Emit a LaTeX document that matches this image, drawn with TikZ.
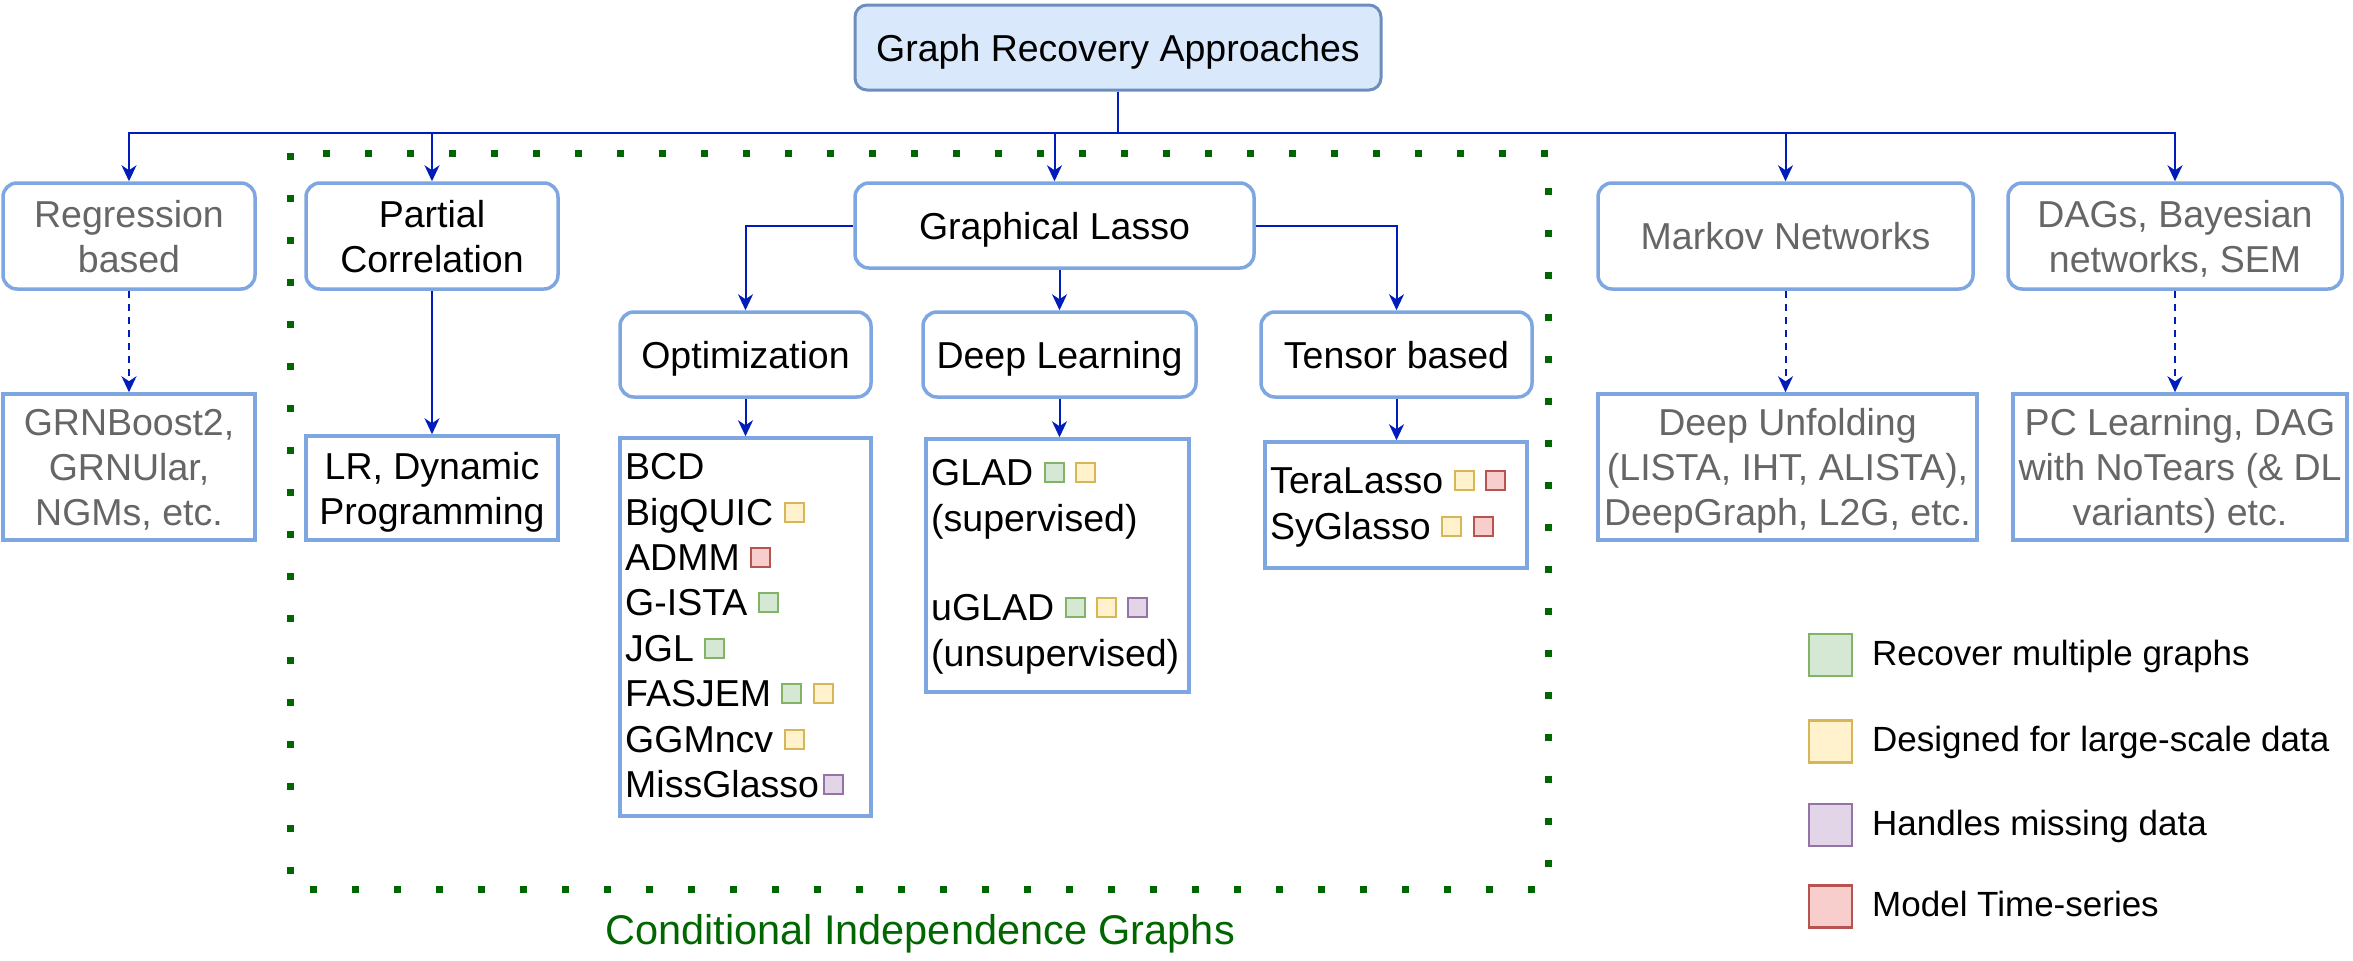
\documentclass[tikz,border=0pt]{standalone}
\usepackage{fontspec}
\setmainfont{Liberation Sans}
\usetikzlibrary{arrows.meta}
\definecolor{arr}{HTML}{001DBC}
\definecolor{bord}{HTML}{7EA6E0}
\definecolor{topfill}{HTML}{DAE8FC}
\definecolor{topbord}{HTML}{6C8EBF}
\definecolor{gtext}{HTML}{666666}
\definecolor{cig}{HTML}{006600}
\definecolor{gF}{HTML}{D5E8D4}\definecolor{gS}{HTML}{82B366}
\definecolor{yF}{HTML}{FFF2CC}\definecolor{yS}{HTML}{D6B656}
\definecolor{pF}{HTML}{E1D5E7}\definecolor{pS}{HTML}{9673A6}
\definecolor{rF}{HTML}{F8CECC}\definecolor{rS}{HTML}{B85450}
\newcommand\ms{\rule[-9pt]{0pt}{45pt}}
\newcommand\fs{\fontsize{37.5pt}{45pt}\selectfont}
\newcommand\lgfs{\fontsize{35pt}{42pt}\selectfont}
\newcommand\sqb[2]{\raisebox{4pt}{\setlength{\fboxrule}{2pt}\setlength{\fboxsep}{0pt}\fcolorbox{#2}{#1}{\rule{0pt}{17pt}\rule{17pt}{0pt}}}}
\newcommand\SG{\sqb{gF}{gS}}
\newcommand\SY{\sqb{yF}{yS}}
\newcommand\SP{\sqb{pF}{pS}}
\newcommand\SR{\sqb{rF}{rS}}
\tikzset{
  rbox/.style={draw=bord, line width=3.5pt, rounded corners=14pt, inner sep=0pt, align=center, font=\fs},
  sbox/.style={draw=bord, line width=3.5pt, inner sep=0pt, align=center, font=\fs},
  gray/.style={text=gtext},
  arw/.style={draw=arr, line width=2pt, -{Stealth[length=16pt,width=15pt,inset=5pt]}},
  darw/.style={arw, dash pattern=on 7pt off 6pt},
  item/.style={anchor=base west, inner sep=0pt, font=\fs},
  lgsq/.style={line width=2.5pt, minimum width=43pt, minimum height=42pt, inner sep=0pt},
  lgtx/.style={anchor=base west, inner sep=0pt, font=\lgfs},
}
\begin{document}
\begin{tikzpicture}[x=1pt,y=-1pt]
\useasboundingbox (0,0) rectangle (2353,961);
% dotted frame
\draw[cig, line width=7pt, dash pattern=on 7pt off 35pt] (290,153) rectangle (1548,889);
\node[text=cig, font=\fontsize{41.5pt}{50pt}\selectfont, anchor=base, inner sep=0pt] (ciglabel) at (920,944) {Conditional Independence Graphs};

% top
\node[draw=topbord, fill=topfill, line width=3pt, rounded corners=12pt, inner sep=0pt, font=\fs, minimum width=526pt, minimum height=85pt] (top) at (1118,47.5) {\ms Graph Recovery Approaches};

% level 1
\node[rbox, gray, minimum width=252pt, minimum height=106pt] (reg) at (129,236) {\ms Regression\\\ms based};
\node[rbox, minimum width=252pt, minimum height=106pt] (pc) at (432,236) {\ms Partial\\\ms Correlation};
\node[rbox, minimum width=399pt, minimum height=85pt] (gl) at (1054.5,225.5) {\ms Graphical Lasso};
\node[rbox, gray, minimum width=375pt, minimum height=106pt] (mk) at (1785.5,236) {\ms Markov Networks};
\node[rbox, gray, minimum width=334pt, minimum height=106pt] (dag) at (2175,236) {\ms DAGs, Bayesian\\\ms networks, SEM};

% level 2 under graphical lasso
\node[rbox, minimum width=251pt, minimum height=85pt] (opt) at (745.5,354.5) {\ms Optimization};
\node[rbox, minimum width=273pt, minimum height=85pt] (dl) at (1059.5,354.5) {\ms Deep Learning};
\node[rbox, minimum width=271pt, minimum height=85pt] (ten) at (1396.5,354.5) {\ms Tensor based};

% leaf boxes
\node[sbox, gray, minimum width=252pt, minimum height=146pt] (grn) at (129,467) {\ms GRNBoost2,\\\ms GRNUlar,\\\ms NGMs, etc.};
\node[sbox, minimum width=252pt, minimum height=104pt] (lr) at (432,488) {\ms LR, Dynamic\\\ms Programming};
\node[sbox, gray, minimum width=379pt, minimum height=146pt] (du) at (1787.5,467) {\ms Deep Unfolding\\\ms (LISTA, IHT, ALISTA),\\\ms DeepGraph, L2G, etc.};
\node[sbox, gray, minimum width=334pt, minimum height=146pt] (pcl) at (2180,467) {\ms PC Learning, DAG\\\ms with NoTears (\& DL\\\ms variants) etc.};

\node[sbox, minimum width=251pt, minimum height=378pt] (optl) at (745.5,627) {};
\node[sbox, minimum width=263pt, minimum height=253pt] (glad) at (1057.5,565.5) {};
\node[sbox, minimum width=262pt, minimum height=126pt] (tera) at (1396,505) {};

% optimization list
\node[item] (i1) at (625,479) {BCD};
\node[item] (i2) at (625,525) {BigQUIC \SY};
\node[item] (i3) at (625,570) {ADMM \SR};
\node[item] (i4) at (625,615) {G-ISTA \SG};
\node[item] (i5) at (625,661) {JGL \SG};
\node[item] (i6) at (625,706) {FASJEM \SG\ \SY};
\node[item] (i7) at (625,752) {GGMncv \SY};
\node[item] (i8) at (625,797) {MissGlasso\hspace{4pt}\SP};
% deep learning list
\node[item] (d1) at (931,485) {GLAD \SG\ \SY};
\node[item] (d2) at (931,531) {(supervised)};
\node[item] (d3) at (931,620) {uGLAD \SG\ \SY\ \SP};
\node[item] (d4) at (931,666) {(unsupervised)};
% tensor list
\node[item] (t1) at (1270,493) {TeraLasso \SY\ \SR};
\node[item] (t2) at (1270,539) {SyGlasso \SY\ \SR};

% connectors
\coordinate (bus) at (1118,133);
\draw[arw] (top.south) -- (bus) -| (reg.north);
\draw[arw] (top.south) -- (bus) -| (pc.north);
\draw[arw] (top.south) -- (bus) -| (gl.north);
\draw[arw] (top.south) -- (bus) -| (mk.north);
\draw[arw] (top.south) -- (bus) -| (dag.north);

\draw[arw] (gl.west) -| (opt.north);
\draw[arw] (dl.north |- gl.south) -- (dl.north);
\draw[arw] (gl.east) -| (ten.north);

\draw[arw] (opt.south) -- (opt.south |- optl.north);
\draw[arw] (dl.south) -- (dl.south |- glad.north);
\draw[arw] (ten.south) -- (ten.south |- tera.north);
\draw[arw] (pc.south) -- (pc.south |- lr.north);
\draw[darw] (reg.south) -- (reg.south |- grn.north);
\draw[darw] (mk.south) -- (mk.south |- du.north);
\draw[darw] (dag.south) -- (dag.south |- pcl.north);

% legend
\node[lgsq, draw=gS, fill=gF] (lg1) at (1830.5,655) {};
\node[lgsq, draw=yS, fill=yF] (lg2) at (1830.5,741.5) {};
\node[lgsq, draw=pS, fill=pF] (lg3) at (1830.5,825) {};
\node[lgsq, draw=rS, fill=rF] (lg4) at (1830.5,906.5) {};
\node[lgtx] (lt1) at (1872,665) {Recover multiple graphs};
\node[lgtx] (lt2) at (1872,751) {Designed for large-scale data};
\node[lgtx] (lt3) at (1872,835) {Handles missing data};
\node[lgtx] (lt4) at (1872,916) {Model Time-series};
\end{tikzpicture}
\end{document}
